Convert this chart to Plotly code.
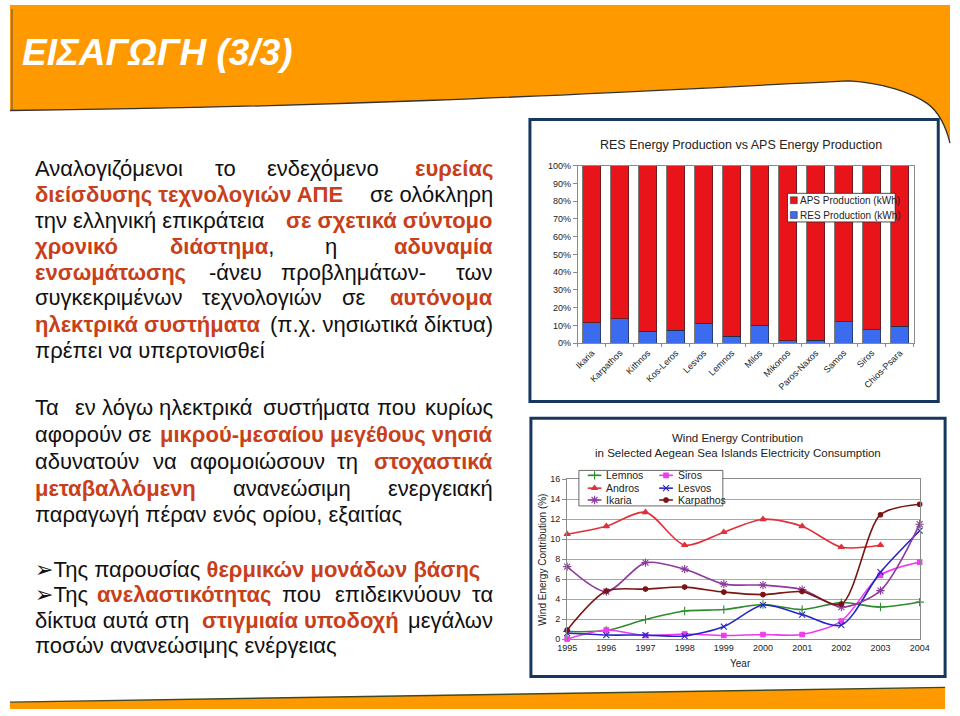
import plotly.graph_objects as go

W, H = 960, 716
def X(px):
    return px / W
def Y(py):
    return 1 - py / H

FONT = "Liberation Sans, Arial, DejaVu Sans, sans-serif"
RED = "#C8401A"
ORANGE = "#FF9900"

# ---------------- data ----------------
islands = ["Ikaria", "Karpathos", "Kithnos", "Kos-Leros", "Lesvos", "Lemnos",
           "Milos", "Mikonos", "Paros-Naxos", "Samos", "Siros", "Chios-Psara"]
res_share = [11.5, 13.7, 6.6, 7.2, 10.9, 3.8, 10.0, 1.5, 1.6, 12.1, 7.7, 9.6]
aps_share = [88.5, 86.3, 93.4, 92.8, 89.1, 96.2, 90.0, 98.5, 98.4, 87.9, 92.3, 90.4]

years = [1995, 1996, 1997, 1998, 1999, 2000, 2001, 2002, 2003, 2004]
lemnos = [0.75, 0.85, 1.95, 2.8, 2.95, 3.45, 2.95, 3.65, 3.2, 3.7]
andros = [10.5, 11.3, 12.7, 9.4, 10.7, 12.0, 11.3, 9.2, 9.4, None]
ikaria = [7.25, 4.75, 7.65, 7.0, 5.5, 5.4, 4.95, 3.2, 4.85, 11.5]
siros = [0.0, 0.9, 0.35, 0.5, 0.35, 0.45, 0.45, 1.8, 6.4, 7.7]
lesvos = [0.6, 0.4, 0.4, 0.3, 1.25, 3.4, 2.45, 1.4, 6.7, 10.85]
karpathos = [0.9, 4.8, 5.0, 5.2, 4.7, 4.45, 4.75, 3.5, 12.45, 13.5]

series = [
    ("Lemnos", lemnos, "#2E8B2E", "cross-thin-open", 6),
    ("Siros", siros, "#EE3BEE", "square", 4.5),
    ("Andros", andros, "#E0303A", "triangle-up", 5.5),
    ("Lesvos", lesvos, "#2626C8", "x-thin-open", 6),
    ("Ikaria", ikaria, "#8E3A9E", "asterisk-open", 7),
    ("Karpathos", karpathos, "#7B1414", "circle", 4.5),
]

fig = go.Figure()

# ---------------- top chart: stacked bars ----------------
fig.add_trace(go.Bar(x=islands, y=res_share, name="RES Production (kWh)",
                     marker=dict(color="#3B6CF0", line=dict(color="#222", width=0.6)),
                     xaxis="x", yaxis="y", showlegend=False))
fig.add_trace(go.Bar(x=islands, y=aps_share, name="APS Production (kWh)",
                     marker=dict(color="#E8141A", line=dict(color="#222", width=0.6)),
                     xaxis="x", yaxis="y", showlegend=False))

# ---------------- bottom chart: lines ----------------
for name, vals, col, sym, sz in series:
    fig.add_trace(go.Scatter(
        x=years, y=vals, name=name, mode="lines+markers",
        line=dict(color=col, width=1.6, shape="spline", smoothing=0.8),
        marker=dict(color=col, symbol=sym, size=sz, line=dict(color=col, width=1.1)),
        xaxis="x2", yaxis="y2", showlegend=False, connectgaps=False,
        cliponaxis=False))

# ---------------- legend of the line chart (overlay pixel axis) ----------------
leg_rows = [477, 490, 502]
leg_cols = [(590, 604, 597, 607), (663, 677, 670, 680)]
shapes = []
annotations = []
for i, (name, vals, col, sym, sz) in enumerate(series):
    c = i % 2
    r = i // 2
    x0, x1, xm, xt = leg_cols[c]
    yy = leg_rows[r]
    shapes.append(dict(type="line", xref="x3", yref="y3", x0=x0, x1=x1, y0=yy, y1=yy,
                       line=dict(color=col, width=1.6), layer="below"))
    fig.add_trace(go.Scatter(x=[xm], y=[yy], mode="markers",
                             marker=dict(color=col, symbol=sym, size=sz, line=dict(color=col, width=1.1)),
                             xaxis="x3", yaxis="y3", showlegend=False, hoverinfo="skip",
                             cliponaxis=False))
    annotations.append(dict(text=name, xref="paper", yref="paper", x=X(xt), y=Y(yy),
                            xanchor="left", yanchor="middle", showarrow=False,
                            font=dict(family=FONT, size=10.5, color="#222")))

# ---------------- background shapes ----------------
def P(pts_cmd):
    out = []
    for tok in pts_cmd:
        if isinstance(tok, str):
            out.append(tok)
        else:
            out.append(f"{X(tok[0]):.5f},{Y(tok[1]):.5f}")
    return " ".join(out)

header_fill = P(["M", (0, 0), "L", (960, 0), "L", (960, 140),
                 "C", (955, 120), (948, 108), (937, 100),
                 "C", (920, 88), (890, 79), (857, 77),
                 "C", (700, 84), (400, 103), (0, 107), "Z"])
header_line = P(["M", (0, 107), "C", (400, 103), (700, 84), (857, 77),
                 "C", (890, 79), (920, 88), (937, 100),
                 "C", (948, 108), (955, 120), (960, 140)])
bg_shapes = [
    dict(type="path", xref="paper", yref="paper", path=header_fill,
         fillcolor=ORANGE, line=dict(width=0), layer="below"),
    dict(type="path", xref="paper", yref="paper", path=header_line,
         fillcolor="rgba(0,0,0,0)", line=dict(color="#333", width=1.3), layer="below"),
    dict(type="line", xref="paper", yref="paper", x0=X(2), x1=X(2), y0=Y(4), y1=Y(107),
         line=dict(color="#555", width=1), layer="below"),
    dict(type="path", xref="paper", yref="paper",
         path=P(["M", (0, 707), "L", (955, 692), "L", (955, 714), "L", (0, 714), "Z"]),
         fillcolor=ORANGE, line=dict(width=0), layer="below"),
    dict(type="line", xref="paper", yref="paper", x0=X(0), x1=X(955), y0=Y(707), y1=Y(692),
         line=dict(color="#3d4a1f", width=1.4), layer="below"),
    # chart frames
    dict(type="rect", xref="paper", yref="paper", x0=X(531), x1=X(948), y0=Y(402), y1=Y(116),
         fillcolor="white", line=dict(color="#17375E", width=3), layer="below"),
    dict(type="rect", xref="paper", yref="paper", x0=X(532), x1=X(955), y0=Y(681), y1=Y(419),
         fillcolor="white", line=dict(color="#17375E", width=3), layer="below"),
]
legend_box = dict(type="rect", xref="x3", yref="y3", x0=581, x1=728, y0=472, y1=508,
                  fillcolor="white", line=dict(color="#444", width=0.8), layer="below")

# top chart legend
top_leg = [
    dict(type="rect", xref="paper", yref="paper", x0=X(794), x1=X(904), y0=Y(220), y1=Y(191),
         fillcolor="white", line=dict(color="#222", width=0.8), layer="above"),
    dict(type="rect", xref="paper", yref="paper", x0=X(797), x1=X(804), y0=Y(201.5), y1=Y(194.5),
         fillcolor="#E8141A", line=dict(color="#222", width=0.5), layer="above"),
    dict(type="rect", xref="paper", yref="paper", x0=X(797), x1=X(804), y0=Y(216.5), y1=Y(209.5),
         fillcolor="#3B6CF0", line=dict(color="#222", width=0.5), layer="above"),
]
for txt, yy in [("APS Production (kWh)", 198), ("RES Production (kWh)", 213)]:
    annotations.append(dict(text=txt, xref="paper", yref="paper", x=X(805), y=Y(yy),
                            xanchor="left", yanchor="middle", showarrow=False,
                            font=dict(family=FONT, size=10, color="#222")))

# chart titles / axis titles
annotations += [
    dict(text="RES Energy Production vs APS Energy Production", xref="paper", yref="paper",
         x=X(747), y=Y(142), xanchor="center", yanchor="middle", showarrow=False,
         font=dict(family=FONT, size=12.5, color="#222")),
    dict(text="Wind Energy Contribution", xref="paper", yref="paper",
         x=X(743), y=Y(439), xanchor="center", yanchor="middle", showarrow=False,
         font=dict(family=FONT, size=11.5, color="#222")),
    dict(text="in Selected Aegean Sea Islands Electricity Consumption", xref="paper", yref="paper",
         x=X(743), y=Y(454), xanchor="center", yanchor="middle", showarrow=False,
         font=dict(family=FONT, size=11.5, color="#222")),
    dict(text="Wind Energy Contribution (%)", xref="paper", yref="paper",
         x=X(543), y=Y(563), xanchor="center", yanchor="middle", showarrow=False, textangle=-90,
         font=dict(family=FONT, size=10, color="#222")),
    dict(text="Year", xref="paper", yref="paper",
         x=X(746), y=Y(668), xanchor="center", yanchor="middle", showarrow=False,
         font=dict(family=FONT, size=10, color="#222")),
]

# slide title
annotations.append(dict(text="<b><i>ΕΙΣΑΓΩΓΗ (3/3)</i></b>", xref="paper", yref="paper",
                        x=X(10), y=Y(48), xanchor="left", yanchor="middle", showarrow=False,
                        font=dict(family=FONT, size=37, color="white")))

# ---------------- slide body text ----------------
def R(s):
    return f'<span style="color:{RED}"><b>{s}</b></span>'

L, C, RR = "left", "center", "right"
body = [
    (166, [("Αναλογιζόμενοι", 26, L), ("το", 220, C), ("ενδεχόμενο", 320, C), (R("ευρείας"), 493, RR)]),
    (192, [(R("διείσδυσης τεχνολογιών ΑΠΕ"), 26, L), ("σε ολόκληρη", 493, RR)]),
    (219, [("την ελληνική επικράτεια", 26, L), (R("σε σχετικά σύντομο"), 493, RR)]),
    (245, [(R("χρονικό"), 26, L), (R("διάστημα") + ",", 217, C), ("η", 328, C), (R("αδυναμία"), 493, RR)]),
    (271, [(R("ενσωμάτωσης"), 26, L), ("-άνευ", 230, C), ("προβλημάτων-", 351, C), ("των", 493, RR)]),
    (297, [("συγκεκριμένων", 26, L), ("τεχνολογιών", 257, C), ("σε", 351, C), (R("αυτόνομα"), 493, RR)]),
    (324, [(R("ηλεκτρικά συστήματα"), 26, L), ("(π.χ. νησιωτικά δίκτυα)", 493, RR)]),
    (350, [("πρέπει να υπερτονισθεί", 26, L)]),
    (408, [("Τα", 26, L), ("εν", 77, C), ("λόγω", 120, C), ("ηλεκτρικά", 200, C), ("συστήματα", 313, C),
           ("που", 395, C), ("κυρίως", 493, RR)]),
    (436, [("αφορούν σε", 26, L), (R("μικρού-μεσαίου μεγέθους νησιά"), 493, RR)]),
    (463, [("αδυνατούν", 26, L), ("να", 158, C), ("αφομοιώσουν", 253, C), ("τη", 345, C), (R("στοχαστικά"), 493, RR)]),
    (490, [(R("μεταβαλλόμενη"), 26, L), ("ανανεώσιμη", 288, C), ("ενεργειακή", 493, RR)]),
    (517, [("παραγωγή πέραν ενός ορίου, εξαιτίας", 26, L)]),
    (572, [("➢Της παρουσίας " + R("θερμικών μονάδων βάσης"), 26, L)]),
    (598, [("➢Της", 26, L), (R("ανελαστικότητας"), 178, C), ("που", 298, C), ("επιδεικνύουν", 396, C), ("τα", 493, RR)]),
    (624, [("δίκτυα αυτά στη", 26, L), (R("στιγμιαία υποδοχή"), 297, C), ("μεγάλων", 493, RR)]),
    (650, [("ποσών ανανεώσιμης ενέργειας", 26, L)]),
]
for yy, segs in body:
    for txt, xx, anc in segs:
        annotations.append(dict(text=txt, xref="paper", yref="paper", x=X(xx), y=Y(yy),
                                xanchor=anc, yanchor="middle", showarrow=False, borderpad=0,
                                borderwidth=0,
                                font=dict(family=FONT, size=22, color="#111")))

axis_common = dict(showline=True, linecolor="#8a8a8a", linewidth=1, mirror=True,
                   tickfont=dict(family=FONT, size=9, color="#222"), zeroline=False)

fig.update_layout(
    width=W, height=H, margin=dict(l=0, r=0, t=0, b=0),
    paper_bgcolor="white", plot_bgcolor="rgba(0,0,0,0)",
    barmode="stack", bargap=0.355, showlegend=False,
    font=dict(family=FONT),
    xaxis=dict(domain=[X(580), X(923)], anchor="y", type="category", tickangle=-45,
               ticks="outside", ticklen=3, tickcolor="#8a8a8a", tickson="boundaries",
               showgrid=False, **axis_common),
    yaxis=dict(domain=[Y(343), Y(163)], anchor="x", range=[0, 100], dtick=10, ticksuffix="%",
               ticks="outside", ticklen=4, tickcolor="#8a8a8a", showgrid=False, **axis_common),
    xaxis2=dict(domain=[X(569), X(929)], anchor="y2", range=[1995, 2004], tickvals=years,
                ticks="", showgrid=False, **axis_common),
    yaxis2=dict(domain=[Y(643), Y(481)], anchor="x2", range=[0, 16], dtick=2,
                ticks="outside", ticklen=4, tickcolor="#8a8a8a",
                showgrid=True, gridcolor="#a8a8a8", gridwidth=1, **axis_common),
    xaxis3=dict(domain=[0, 1], anchor="y3", range=[0, W], visible=False, fixedrange=True),
    yaxis3=dict(domain=[0, 1], anchor="x3", range=[H, 0], visible=False, fixedrange=True),
    shapes=bg_shapes + [legend_box] + shapes + top_leg,
    annotations=annotations,
)

fig.write_html("out.html")
